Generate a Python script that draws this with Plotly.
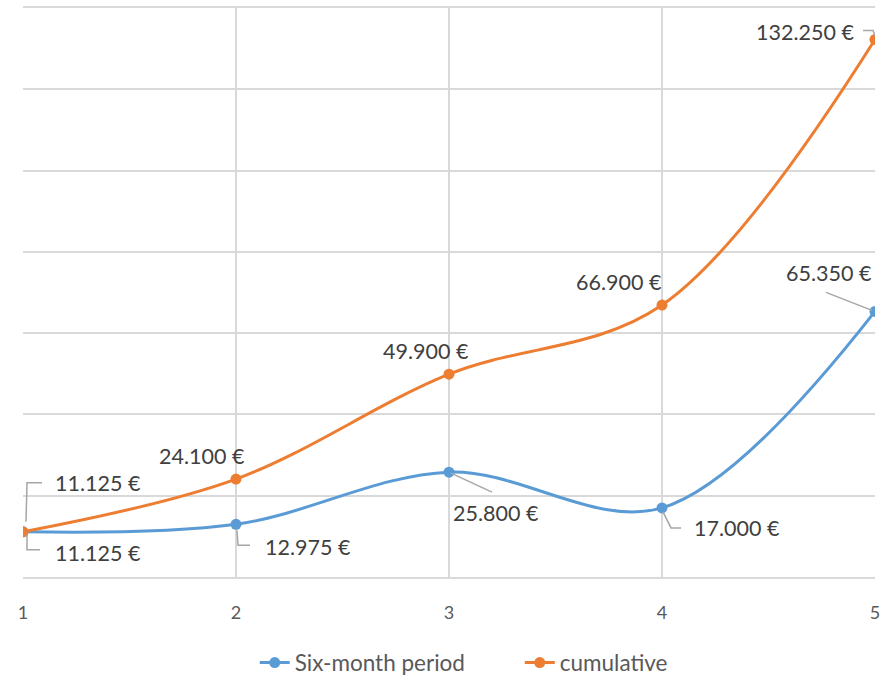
import plotly.graph_objects as go

# ---- data ----
periods = [1, 2, 3, 4, 5]
six_month = [11125, 12975, 25800, 17000, 65350]
cumulative = [11125, 24100, 49900, 66900, 132250]
series_names = ["Six-month period", "cumulative"]

# ---- styles / label placement (pixel offsets, y up) ----
BLUE = "#5B9BD5"
ORANGE = "#ED7D31"
GRID = "#D9D9D9"
LABEL_COLOR = "#404040"
LEADER = "#A6A6A6"
FONT = "Lato"

six_label_shift = [(75, -21), (72, -23), (47, -41), (75, -20), (-46, 38)]
cum_label_shift = [(75, 49), (-34, 23), (-23, 23), (-43, 23), (-70, 8)]
six_leaders = [
    [(4, -3), (4, -18), (17, -18)],
    [(1, -6), (2, -21), (14, -21)],
    [(2, -1), (43, -20)],
    [(1, -4), (9, -20), (19, -20)],
    [(-49, 19), (-3, 1)],
]
cum_leaders = [
    [(3, 10), (4, 49), (19, 49)],
    None,
    None,
    None,
    [(-12, 9), (-2, 9), (0, 4)],
]


def fmt(v):
    return f"{v:,}".replace(",", ".") + " €"


fig = go.Figure()
fig.add_trace(go.Scatter(
    x=periods, y=six_month, name=series_names[0], mode="lines+markers",
    line=dict(color=BLUE, width=3, shape="spline", smoothing=1),
    marker=dict(color=BLUE, size=11),
))
fig.add_trace(go.Scatter(
    x=periods, y=cumulative, name=series_names[1], mode="lines+markers",
    line=dict(color=ORANGE, width=3, shape="spline", smoothing=1),
    marker=dict(color=ORANGE, size=11),
))

annotations = []
shapes = []
for vals, shifts, leaders in [(six_month, six_label_shift, six_leaders),
                              (cumulative, cum_label_shift, cum_leaders)]:
    for xv, yv, (dx, dy), ld in zip(periods, vals, shifts, leaders):
        annotations.append(dict(
            x=xv, y=yv, xref="x", yref="y", text=fmt(yv), showarrow=False,
            xshift=dx, yshift=dy,
            font=dict(family=FONT, size=21.5, color=LABEL_COLOR),
        ))
        if ld:
            path = "M " + " L ".join(f"{px},{py}" for px, py in ld)
            shapes.append(dict(
                type="path", path=path, xref="x", yref="y",
                xsizemode="pixel", ysizemode="pixel", xanchor=xv, yanchor=yv,
                line=dict(color=LEADER, width=1.5), layer="above",
            ))

fig.update_layout(
    width=883, height=679,
    margin=dict(l=23, r=8, t=8, b=102, autoexpand=False),
    paper_bgcolor="white", plot_bgcolor="white",
    showlegend=True,
    legend=dict(orientation="h", x=0.272, xanchor="left", y=-0.151, yanchor="middle",
                font=dict(family=FONT, size=22.5, color="#595959"),
                entrywidth=220, tracegroupgap=0),
    annotations=annotations,
    shapes=shapes,
    font=dict(family=FONT),
)
fig.update_xaxes(
    range=[1, 5], tickmode="array", tickvals=periods, ticktext=[str(p) for p in periods],
    showgrid=True, gridcolor=GRID, gridwidth=2,
    showline=True, linecolor=GRID, linewidth=2, mirror=True,
    ticks="outside", ticklen=18, tickcolor="rgba(0,0,0,0)",
    tickfont=dict(family=FONT, size=18, color="#595959"),
    zeroline=False, automargin=False,
)
fig.update_yaxes(
    range=[0, 140000], dtick=20000, showticklabels=False,
    showgrid=True, gridcolor=GRID, gridwidth=2, zeroline=False, automargin=False,
)

fig.write_html("out.html")
